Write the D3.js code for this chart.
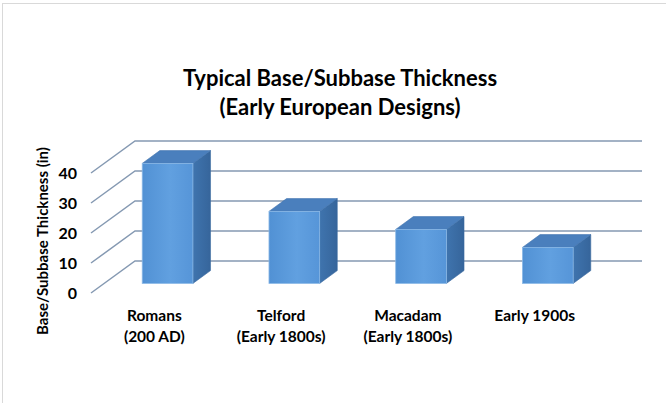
<!DOCTYPE html>
<html>
<head>
<meta charset="utf-8">
<script src="https://cdn.jsdelivr.net/npm/d3@7"></script>
<style>
  body { margin: 0; background: #fff; }
  svg text { font-family: Lato, "Open Sans", sans-serif; font-weight: bold; fill: #000; }
</style>
</head>
<body>
<div id="chartContainer"></div>
<script>
"use strict";

// chart data
const categories = ["Romans|(200 AD)", "Telford|(Early 1800s)", "Macadam|(Early 1800s)", "Early 1900s"];
const thickness = [40, 24, 18, 12];
const yTicks = [0, 10, 20, 30, 40];
const titleLines = ["Typical Base/Subbase Thickness", "(Early European Designs)"];
const yTitle = "Base/Subbase Thickness (in)";

document.addEventListener("DOMContentLoaded", function() {
  drawChart();
});

function drawChart() {
  let width = 666, height = 403;

  let svg = d3.select("#chartContainer").append("svg")
    .attr("width", width)
    .attr("height", height);

  // light frame round the chart area
  svg.append("rect")
    .attr("x", 2.5).attr("y", 3.5)
    .attr("width", width + 10).attr("height", height + 10)
    .attr("fill", "none")
    .attr("stroke", "#d9d9d9");

  // front plane of the 3d plot and the depth vector
  let plotLeft = 91, plotRight = 598;
  let depthX = 44, depthY = -32;

  let x = d3.scaleBand()
    .domain(categories)
    .range([plotLeft, plotRight])
    .paddingInner(0.6)
    .paddingOuter(0.3);

  let y = d3.scaleLinear()
    .domain([0, 40])
    .range([293, 173]);

  // project a point at depth d (0 = front, 1 = back wall)
  function px(xv, d) { return xv + d * depthX; }
  function py(v, d) { return y(v) + d * depthY; }

  let defs = svg.append("defs");
  let gFront = defs.append("linearGradient").attr("id", "frontGrad");
  gFront.append("stop").attr("offset", "0%").attr("stop-color", "#5191d4");
  gFront.append("stop").attr("offset", "55%").attr("stop-color", "#61a0e0");
  gFront.append("stop").attr("offset", "100%").attr("stop-color", "#5695d8");
  let gSide = defs.append("linearGradient").attr("id", "sideGrad");
  gSide.append("stop").attr("offset", "0%").attr("stop-color", "#3f74ae");
  gSide.append("stop").attr("offset", "100%").attr("stop-color", "#36659b");

  // gridlines: diagonal on left wall + horizontal on back wall
  let grid = svg.append("g").attr("class", "grid")
    .attr("stroke", "#8599b2")
    .attr("stroke-width", 1.5)
    .attr("fill", "none");

  yTicks.forEach(t => {
    grid.append("path")
      .attr("d", d3.line()([
        [px(plotLeft, 0), py(t, 0)],
        [px(plotLeft, 1), py(t, 1)],
        [px(plotRight, 1), py(t, 1)]
      ]));
  });

  // y tick labels
  svg.append("g").selectAll("text")
    .data(yTicks)
    .enter()
    .append("text")
    .attr("x", 77)
    .attr("y", d => y(d) + 5.5)
    .attr("text-anchor", "end")
    .style("font-size", "16px")
    .text(d => d);

  // bars, drawn as side, top and front faces
  let d0 = 0.3, d1 = 0.7;
  let bars = svg.append("g").selectAll(".bar")
    .data(categories.map((c, i) => ({ cat: c, value: thickness[i] })))
    .enter()
    .append("g")
    .attr("class", "bar");

  bars.append("path")
    .attr("fill", "url(#sideGrad)")
    .attr("stroke", "#3a6aa0")
    .attr("stroke-width", 0.6)
    .attr("d", d => {
      let xr = x(d.cat) + x.bandwidth();
      return d3.line()([
        [px(xr, d0), py(d.value, d0)],
        [px(xr, d1), py(d.value, d1)],
        [px(xr, d1), py(0, d1)],
        [px(xr, d0), py(0, d0)]
      ]) + "Z";
    });

  bars.append("path")
    .attr("fill", "#4a7fbd")
    .attr("stroke", "#3f72ac")
    .attr("stroke-width", 0.6)
    .attr("d", d => {
      let xl = x(d.cat), xr = xl + x.bandwidth();
      return d3.line()([
        [px(xl, d0), py(d.value, d0)],
        [px(xl, d1), py(d.value, d1)],
        [px(xr, d1), py(d.value, d1)],
        [px(xr, d0), py(d.value, d0)]
      ]) + "Z";
    });

  bars.append("rect")
    .attr("x", d => px(x(d.cat), d0))
    .attr("y", d => py(d.value, d0))
    .attr("width", x.bandwidth())
    .attr("height", d => py(0, d0) - py(d.value, d0))
    .attr("fill", "url(#frontGrad)")
    .attr("stroke", "#8ab8e6")
    .attr("stroke-width", 0.8);

  // category labels on the front edge of the floor
  let labels = svg.append("g").selectAll("text")
    .data(categories)
    .enter()
    .append("text")
    .attr("text-anchor", "middle")
    .style("font-size", "15.5px");

  labels.each(function(c) {
    let parts = c.split("|");
    let cx = x(c) + x.bandwidth() / 2;
    parts.forEach((p, i) => {
      d3.select(this).append("tspan")
        .attr("x", cx)
        .attr("y", 321 + i * 21)
        .text(p);
    });
  });

  // title
  svg.append("g").selectAll("text")
    .data(titleLines)
    .enter()
    .append("text")
    .attr("x", 340)
    .attr("y", (d, i) => 86 + i * 29)
    .attr("text-anchor", "middle")
    .style("font-size", "22px")
    .text(d => d);

  // y axis title
  svg.append("text")
    .attr("transform", "translate(48,241) rotate(-90)")
    .attr("text-anchor", "middle")
    .style("font-size", "15px")
    .text(yTitle);
}
</script>
</body>
</html>
